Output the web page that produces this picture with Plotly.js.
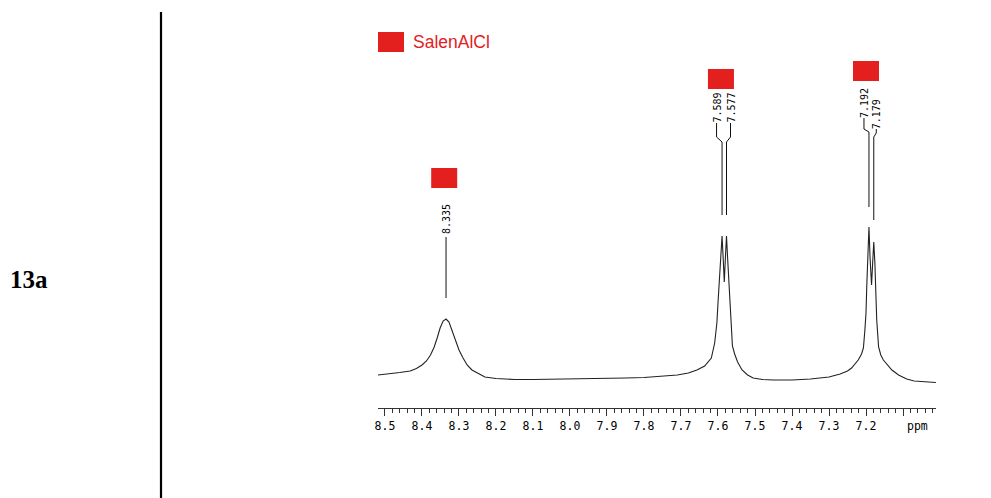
<!DOCTYPE html>
<html>
<head>
<meta charset="utf-8">
<script src="https://cdn.plot.ly/plotly-3.0.1.min.js"></script>
<style>html,body{margin:0;padding:0;background:#fff;}#chart{width:991px;height:498px;}</style>
</head>
<body>
<div id="chart"></div>
<script>
// ---- data ----
const sampleLabel = '13a';
const legendName = 'SalenAlCl';
const ppm = [8.519,8.490,8.460,8.432,8.415,8.400,8.388,8.377,8.367,8.359,8.351,8.343,8.335,8.327,8.319,8.311,8.300,8.289,8.278,8.265,8.251,8.230,8.200,8.150,8.100,8.050,8.000,7.950,7.900,7.850,7.800,7.750,7.710,7.680,7.657,7.636,7.618,7.609,7.603,7.600,7.597,7.595,7.592,7.589,7.586,7.583,7.580,7.577,7.574,7.570,7.567,7.565,7.561,7.555,7.547,7.535,7.520,7.505,7.480,7.450,7.400,7.350,7.300,7.270,7.250,7.239,7.221,7.212,7.207,7.203,7.200,7.198,7.195,7.192,7.189,7.185,7.182,7.179,7.176,7.174,7.171,7.166,7.160,7.153,7.140,7.130,7.112,7.090,7.070,7.040,7.011];
const intensity = [33,34,35.5,37,39.5,43,47,53,61,70,80,87,89,86,78,68,58,50,43,38,35,31,29.5,28.5,28.5,28.8,28.5,29,29.5,30,30.5,31.5,33,35,38,42,50,65,85,105,125,140,160,172,150,126,150,172,150,121,100,88,62,54,46,38,33,30,28.5,28,28,29,31,34,37,40,48,54,60,78,95,121,155,181,150,123,145,166,145,121,88,61,53,48,42,38,33,29,27,26,25.5];
const peakValues = [8.335, 7.589, 7.577, 7.192, 7.179];
const peakLabels = ['8.335', '7.589', '7.577', '7.192', '7.179'];
const groupCenters = [8.340, 7.592, 7.200];
const tickVals = [8.5,8.4,8.3,8.2,8.1,8.0,7.9,7.8,7.7,7.6,7.5,7.4,7.3,7.2,7.1];
const tickText = ['8.5','8.4','8.3','8.2','8.1','8.0','7.9','7.8','7.7','7.6','7.5','7.4','7.3','7.2',''];
const unitLabel = 'ppm';

// ---- layout / styling ----
const W = 991, H = 498;
const plotL = 378, plotR = 936, plotT = 20, plotB = 408;
const xRange = [8.5189, 7.0108];
const yRange = [0, plotB - plotT];
const pxPerPpm = (plotR - plotL) / (xRange[0] - xRange[1]);
const red = '#e4201f';
const mono = '"DejaVu Sans Mono", "Liberation Mono", monospace';

// per-label leader layout: text x-offset (px), text centre, leader top, bend start, bend end, bottom (y units)
const leaderCfg = [
  {dx: 0,  ty: 189, top: 171, b1: 171, b2: 171, bot: 110},
  {dx: -5.5, ty: 300, top: 285, b1: 271, b2: 266, bot: 193},
  {dx: 4,  ty: 300, top: 285, b1: 271, b2: 266, bot: 193},
  {dx: -5, ty: 305, top: 290, b1: 279, b2: 276, bot: 201},
  {dx: 2.5,  ty: 294, top: 279, b1: 275, b2: 271, bot: 188}
];
const markerCfg = [
  {y0: 220, y1: 240},
  {y0: 319, y1: 339},
  {y0: 327, y1: 347}
];
const markerW = 26 / pxPerPpm;

const px = v => v / W;
const py = v => (H - v) / H;

const shapes = [];
const annotations = [];

// left cell divider
shapes.push({type: 'line', xref: 'paper', yref: 'paper', x0: px(161), x1: px(161), y0: py(12), y1: py(498),
  line: {color: '#000', width: 2.2}});
annotations.push({xref: 'paper', yref: 'paper', x: px(29), y: py(279), text: '<b>' + sampleLabel + '</b>',
  showarrow: false, xanchor: 'center', yanchor: 'middle',
  font: {family: '"Liberation Serif", "Times New Roman", serif', size: 25, color: '#000'}});

// legend
shapes.push({type: 'rect', xref: 'paper', yref: 'paper', x0: px(378), x1: px(404), y0: py(52), y1: py(32),
  fillcolor: red, line: {width: 0}});
annotations.push({xref: 'paper', yref: 'paper', x: px(411), y: py(42.5), text: legendName,
  showarrow: false, xanchor: 'left', yanchor: 'middle',
  font: {family: '"Liberation Sans", Arial, sans-serif', size: 17.5, color: red}});

// group markers
groupCenters.forEach((c, i) => {
  shapes.push({type: 'rect', xref: 'x', yref: 'y', x0: c + markerW / 2, x1: c - markerW / 2,
    y0: markerCfg[i].y0, y1: markerCfg[i].y1, fillcolor: red, line: {width: 0}});
});

// peak labels and leader lines
peakValues.forEach((p, i) => {
  const c = leaderCfg[i];
  const tx = p - c.dx / pxPerPpm;
  annotations.push({xref: 'x', yref: 'y', x: tx, y: c.ty, text: peakLabels[i], textangle: -90,
    showarrow: false, xanchor: 'center', yanchor: 'middle',
    font: {family: mono, size: 10, color: '#000'}});
  const path = 'M ' + tx + ',' + c.top + ' L ' + tx + ',' + c.b1 + ' L ' + p + ',' + c.b2 + ' L ' + p + ',' + c.bot;
  shapes.push({type: 'path', xref: 'x', yref: 'y', path: path, line: {color: '#111', width: 1}});
});

// unit label
annotations.push({xref: 'paper', yref: 'paper', x: px(917), y: py(426), text: unitLabel,
  showarrow: false, xanchor: 'center', yanchor: 'middle',
  font: {family: mono, size: 11.5, color: '#000'}});

const trace = {
  x: ppm, y: intensity, type: 'scatter', mode: 'lines',
  line: {color: '#222', width: 1.1}, hoverinfo: 'skip', showlegend: false
};

const layout = {
  width: W, height: H,
  margin: {l: 0, r: 0, t: 0, b: 0, pad: 0},
  paper_bgcolor: '#fff', plot_bgcolor: '#fff',
  showlegend: false,
  xaxis: {
    domain: [plotL / W, plotR / W],
    range: xRange, autorange: false,
    showgrid: false, zeroline: false,
    showline: true, linecolor: '#333', linewidth: 1.3,
    ticks: 'outside', ticklen: 7, tickwidth: 1, tickcolor: '#333',
    tickmode: 'array', tickvals: tickVals, ticktext: tickText,
    tickfont: {family: mono, size: 11.5, color: '#000'},
    ticklabelstandoff: 0,
    minor: {tickmode: 'linear', tick0: 7.0, dtick: 0.02, ticks: 'outside', ticklen: 4, tickwidth: 1, tickcolor: '#333', showgrid: false}
  },
  yaxis: {
    domain: [(H - plotB) / H, (H - plotT) / H],
    range: yRange, autorange: false,
    visible: false, showgrid: false, zeroline: false
  },
  shapes: shapes,
  annotations: annotations
};

Plotly.newPlot('chart', [trace], layout, {displayModeBar: false, staticPlot: true});
</script>
</body>
</html>
